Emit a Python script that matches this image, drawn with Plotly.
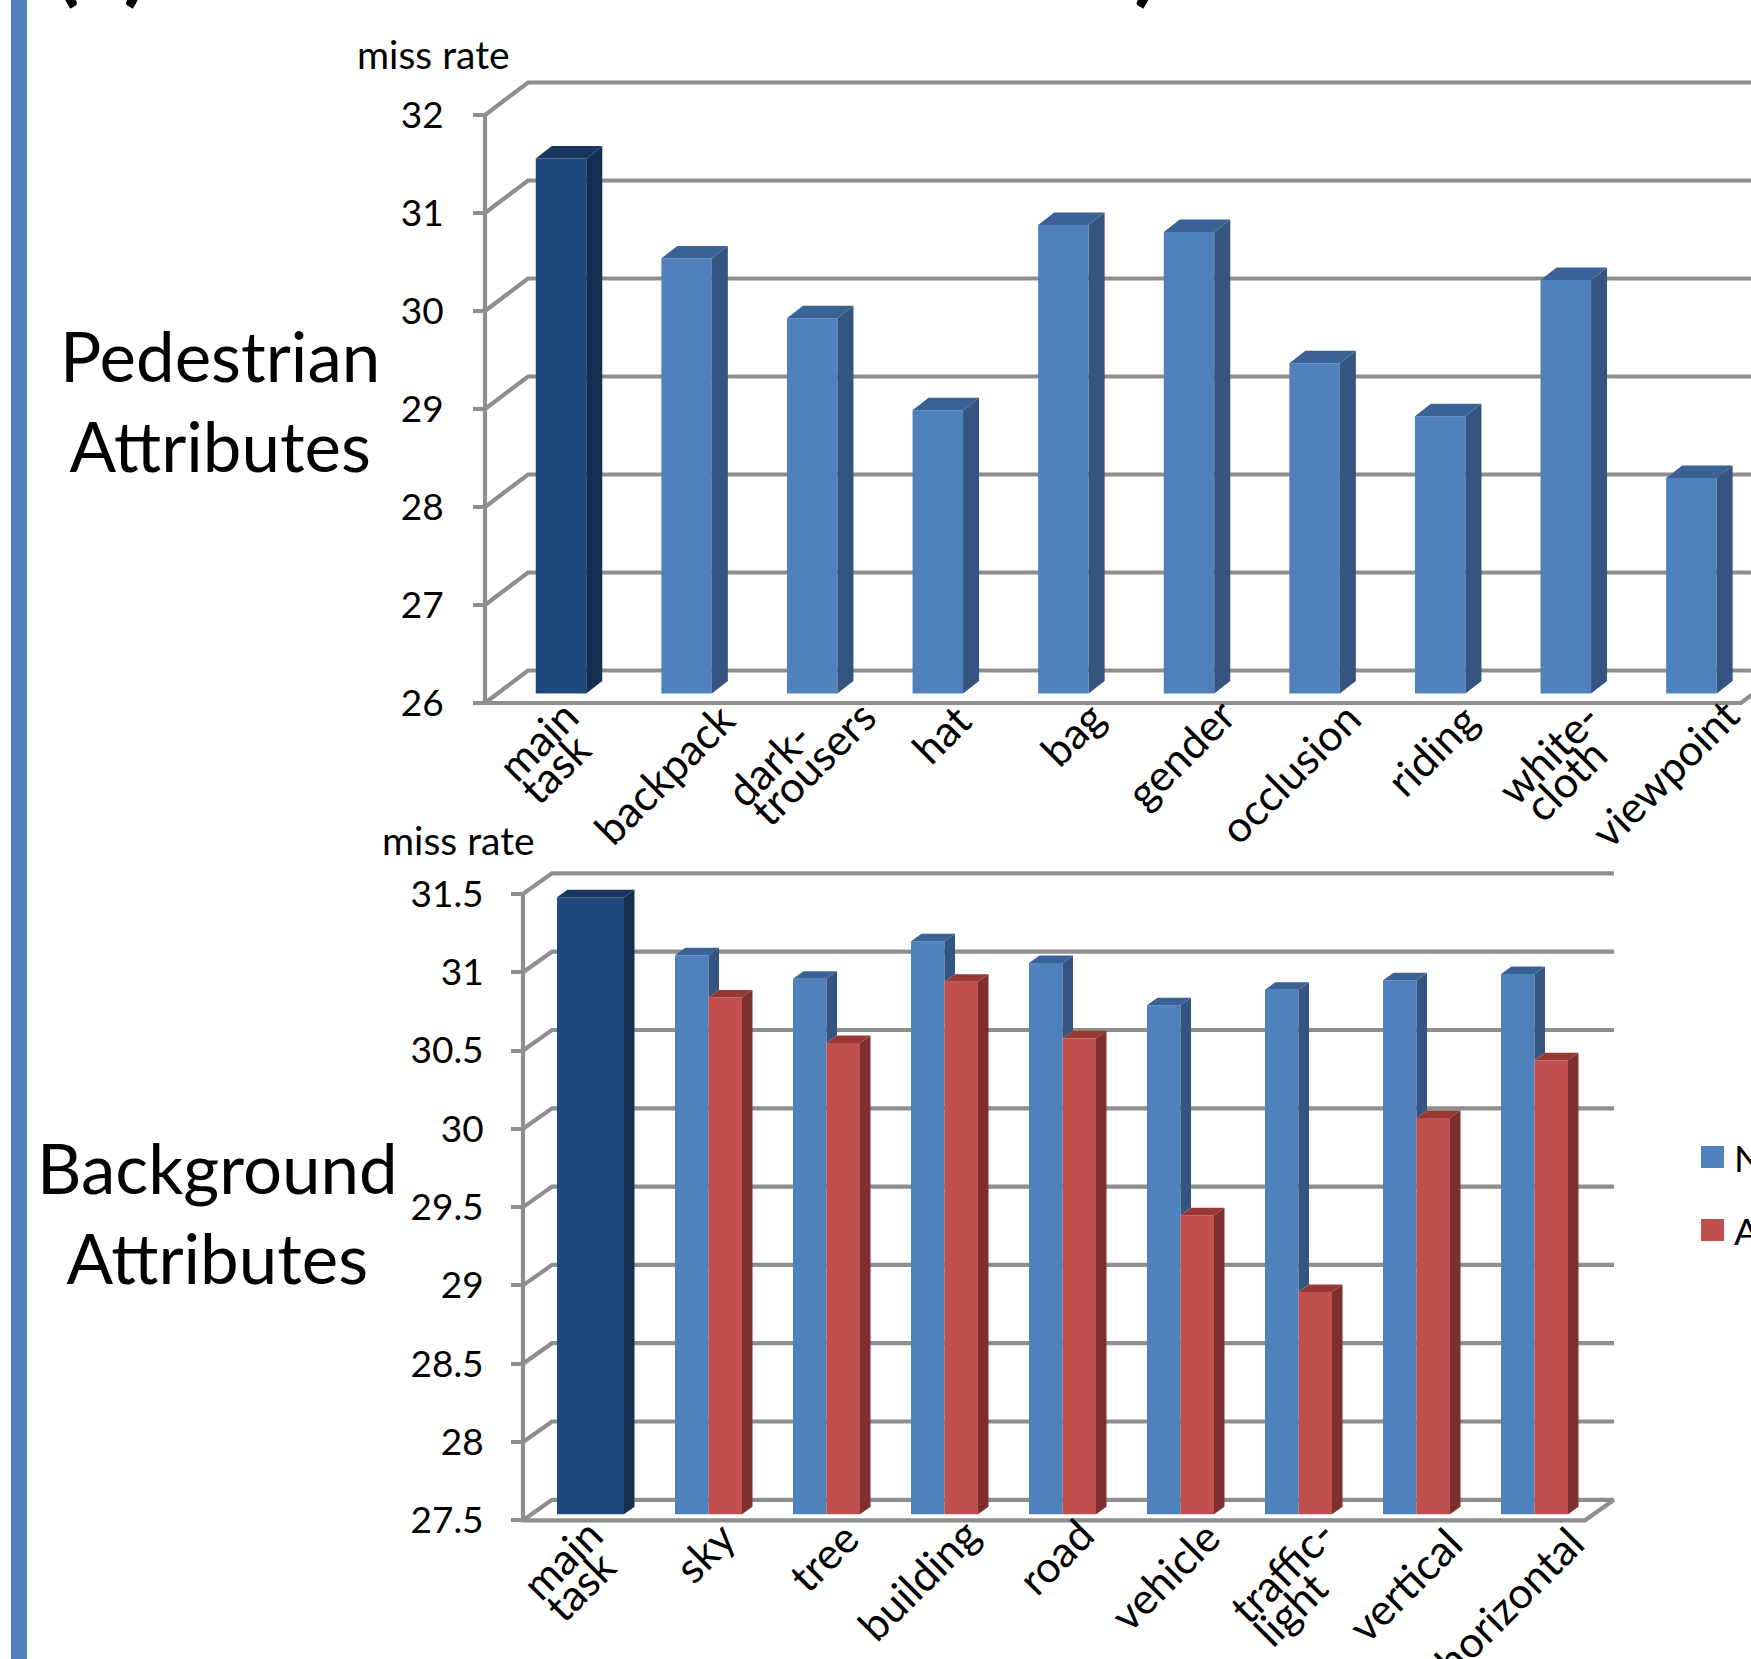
import plotly.graph_objects as go

W, H = 1751, 1659
FONT = "Lato"
BLUE, BLUE_SIDE, BLUE_TOP = "#4f81bd", "#34557f", "#3a6294"
RED, RED_SIDE, RED_TOP = "#c0504d", "#7d302e", "#973835"
DARK, DARK_SIDE, DARK_TOP = "#1f497d", "#152f52", "#17375e"
GRID = "#8e8e8e"

# ---------- data ----------
ped_categories = [["main", "task"], ["backpack"], ["dark-", "trousers"], ["hat"], ["bag"],
                  ["gender"], ["occlusion"], ["riding"], ["white-", "cloth"], ["viewpoint"]]
ped_main = [31.46]
ped_values = [30.44, 29.83, 28.89, 30.78, 30.71, 29.37, 28.83, 30.22, 28.20]
ped_ticks = [26, 27, 28, 29, 30, 31, 32]

bg_categories = [["main", "task"], ["sky"], ["tree"], ["building"], ["road"], ["vehicle"],
                 ["traffic-", "light"], ["vertical"], ["horizontal"]]
bg_main = [31.44]
bg_blue = [31.07, 30.92, 31.16, 31.02, 30.75, 30.85, 30.91, 30.95]
bg_red = [30.80, 30.51, 30.90, 30.54, 29.41, 28.92, 30.03, 30.40]
bg_ticks = [27.5, 28, 28.5, 29, 29.5, 30, 30.5, 31, 31.5]
bg_ticktext = ["27.5", "28", "28.5", "29", "29.5", "30", "30.5", "31", "31.5"]

# label placement, in pixels from the category position: (right edge, top edge) of each line
ped_label_place = [[(28, 689), (40, 722)], [(59, 692)], [(10, 709), (75, 689)], [(44, 692)], [(52, 690)],
                   [(57, 688)], [(57, 690)], [(49, 692)], [(45, 690), (52, 727)], [(59, 687)]]
bg_label_place = [[(23, 1507), (36, 1539)], [(38, 1510)], [(43, 1510)], [(45, 1507)], [(42, 1507)],
                  [(50, 1509)], [(47, 1507), (40, 1560)], [(56, 1516)], [(60, 1516)]]

fig = go.Figure()
shapes, annotations = [], []


def faces(x_ax, y_ax, polys, color):
    xs, ys = [], []
    for poly in polys:
        xs += [p[0] for p in poly] + [poly[0][0], None]
        ys += [p[1] for p in poly] + [poly[0][1], None]
    fig.add_trace(go.Scatter(x=xs, y=ys, xaxis=x_ax, yaxis=y_ax, mode="lines", fill="toself",
                             fillcolor=color, line=dict(width=0), hoverinfo="skip", showlegend=False))


def side_poly(xr, top, low, dx, dy):
    return [(xr, top), (xr + dx, top + dy), (xr + dx, low + dy), (xr, low)]


def top_poly(xl, xr, top, dx, dy):
    return [(xl, top), (xr, top), (xr + dx, top + dy), (xl + dx, top + dy)]


def frame(cfg):
    """Walls, floor and y axis line, built from the tick values."""
    xa, ya = cfg["xa"], cfg["ya"]
    xf, wx, wy, sy, xe = cfg["x_front"], cfg["wall_x"], cfg["wall_y"], cfg["plane_y"], cfg["x_end"]
    line = dict(color=GRID, width=4.2)
    for t in cfg["ticks"]:
        y0 = t - sy
        shapes.append(dict(type="path", layer="below", xref=xa, yref=ya, line=line,
                           path=f"M{xf},{y0} L{xf + wx},{y0 + wy} L{xe + wx},{y0 + wy}"))
    y0, y1 = cfg["ticks"][0] - sy, cfg["ticks"][-1] - sy
    shapes.append(dict(type="path", layer="below", xref=xa, yref=ya, line=line,
                       path=f"M{xf},{y1} L{xf},{y0} L{xe},{y0} L{xe + wx},{y0 + wy}"))


def labels(cfg, cats, place):
    for i, (lines, pos) in enumerate(zip(cats, place)):
        for text, (dx, top) in zip(lines, pos):
            annotations.append(dict(text=text, x=i, y=cfg["base"], xref=cfg["xa"], yref=cfg["ya"],
                                    xanchor="right", yanchor="top", xshift=dx,
                                    yshift=cfg["base_px"] - top, textangle=-45, showarrow=False,
                                    borderpad=0, font=dict(family=FONT, size=43, color="black")))


def axes(name, base, base_px, y_unit, x0_px, x_unit, top_px, bot_px):
    return dict(
        xaxis=dict(domain=[0, 1], range=[-x0_px / x_unit, (W - x0_px) / x_unit], visible=False, anchor=name),
        yaxis=dict(domain=[1 - bot_px / H, 1 - top_px / H],
                   range=[base + (base_px - bot_px) / y_unit, base + (base_px - top_px) / y_unit]),
    )


# ---------- pedestrian chart ----------
P_XU, P_YU = 125.6, 98.0
P_BASE_PX = 693.5
P = dict(xa="x", ya="y", ticks=ped_ticks, base=26, base_px=P_BASE_PX,
         x_front=-76 / P_XU, wall_x=43 / P_XU, wall_y=32.5 / P_YU, plane_y=9.5 / P_YU,
         x_end=(1741 - 561) / P_XU)
P_W, P_DX, P_DY = 50.5 / P_XU, 16 / P_XU, 12.5 / P_YU
frame(P)
fig.add_trace(go.Bar(x=[0], y=[v - 26 for v in ped_main], base=26, width=P_W, marker=dict(color=DARK, line=dict(width=0)),
                     xaxis="x", yaxis="y", showlegend=False, name="main task"))
ped_x = list(range(1, len(ped_values) + 1))
fig.add_trace(go.Bar(x=ped_x, y=[v - 26 for v in ped_values], base=26, width=P_W, marker=dict(color=BLUE, line=dict(width=0)),
                     xaxis="x", yaxis="y", showlegend=False, name="attribute"))
faces("x", "y", [side_poly(P_W / 2, ped_main[0], 26, P_DX, P_DY)], DARK_SIDE)
faces("x", "y", [top_poly(-P_W / 2, P_W / 2, ped_main[0], P_DX, P_DY)], DARK_TOP)
faces("x", "y", [side_poly(i + P_W / 2, v, 26, P_DX, P_DY) for i, v in zip(ped_x, ped_values)], BLUE_SIDE)
faces("x", "y", [top_poly(i - P_W / 2, i + P_W / 2, v, P_DX, P_DY) for i, v in zip(ped_x, ped_values)], BLUE_TOP)
labels(P, ped_categories, ped_label_place)

# ---------- background chart ----------
B_XU, B_YU = 118.0, 156.6
B = dict(xa="x2", ya="y2", ticks=bg_ticks, base=27.5, base_px=1514.3,
         x_front=-67.5 / B_XU, wall_x=29 / B_XU, wall_y=20.5 / B_YU, plane_y=6 / B_YU,
         x_end=(1585 - 590.5) / B_XU)
B_W, B_DX, B_DY = 33.5 / B_XU, 10.5 / B_XU, 7.5 / B_YU
frame(B)
fig.add_trace(go.Bar(x=[0], y=[v - 27.5 for v in bg_main], base=27.5, width=2 * B_W, marker=dict(color=DARK, line=dict(width=0)),
                     xaxis="x2", yaxis="y2", showlegend=False, name="main task"))
bg_x = list(range(1, len(bg_blue) + 1))
fig.add_trace(go.Bar(x=[i - B_W / 2 for i in bg_x], y=[v - 27.5 for v in bg_blue], base=27.5, width=B_W,
                     marker=dict(color=BLUE, line=dict(width=0)), xaxis="x2", yaxis="y2", showlegend=False, name="N"))
fig.add_trace(go.Bar(x=[i + B_W / 2 for i in bg_x], y=[v - 27.5 for v in bg_red], base=27.5, width=B_W,
                     marker=dict(color=RED, line=dict(width=0)), xaxis="x2", yaxis="y2", showlegend=False, name="A"))
faces("x2", "y2", [side_poly(B_W, bg_main[0], 27.5, B_DX, B_DY)], DARK_SIDE)
faces("x2", "y2", [top_poly(-B_W, B_W, bg_main[0], B_DX, B_DY)], DARK_TOP)
faces("x2", "y2", [side_poly(i, b, r, B_DX, B_DY) for i, b, r in zip(bg_x, bg_blue, bg_red)], BLUE_SIDE)
faces("x2", "y2", [top_poly(i - B_W, i, b, B_DX, B_DY) for i, b in zip(bg_x, bg_blue)], BLUE_TOP)
faces("x2", "y2", [side_poly(i + B_W, r, 27.5, B_DX, B_DY) for i, r in zip(bg_x, bg_red)], RED_SIDE)
faces("x2", "y2", [top_poly(i, i + B_W, r, B_DX, B_DY) for i, r in zip(bg_x, bg_red)], RED_TOP)
labels(B, bg_categories, bg_label_place)

# ---------- page furniture ----------
shapes.append(dict(type="rect", xref="paper", yref="paper", x0=11 / W, x1=27 / W, y0=0, y1=1,
                   fillcolor=BLUE, line=dict(width=0), layer="below"))


def text(t, x_px, y_px, size, xanchor="center", yanchor="middle", bold=False):
    s = f"<b>{t}</b>" if bold else t
    annotations.append(dict(text=s, x=x_px / W, y=1 - y_px / H, xref="paper", yref="paper", xanchor=xanchor,
                            yanchor=yanchor, showarrow=False, borderpad=0,
                            font=dict(family=FONT, size=size, color="black")))


text("miss rate", 433, 54, 39)
text("miss rate", 458, 840, 39)
text("Pedestrian<br>Attributes", 220, 400.5, 69)
text("Background<br>Attributes", 217, 1212, 69)
text("(a)", 101, 15, 93, yanchor="bottom", bold=True)
text(")", 1147, 15, 93, yanchor="bottom", bold=True)

for y_px, color, t in [(1146, BLUE, "N"), (1219, RED, "A")]:
    shapes.append(dict(type="rect", xref="paper", yref="paper", x0=1701 / W, x1=1724 / W,
                       y0=1 - (y_px + 22) / H, y1=1 - y_px / H, fillcolor=color, line=dict(width=0)))
    text(t, 1733, y_px + 11, 37, xanchor="left")

a1 = axes("y", 26, P_BASE_PX, P_YU, 561, P_XU, 60, 730)
a2 = axes("y2", 27.5, 1514.3, B_YU, 590.5, B_XU, 860, 1540)
tick_style = dict(showgrid=False, zeroline=False, showline=False, ticks="outside", ticklen=12, tickwidth=4,
                  tickcolor=GRID, tickmode="array", tickfont=dict(family=FONT, size=37, color="black"))
fig.update_layout(
    width=W, height=H, margin=dict(l=0, r=0, t=0, b=0), autosize=False, paper_bgcolor="white",
    plot_bgcolor="rgba(0,0,0,0)", barmode="overlay", showlegend=False,
    shapes=shapes, annotations=annotations,
    xaxis=a1["xaxis"],
    yaxis={**a1["yaxis"], **tick_style, "anchor": "free", "position": 485 / W,
           "tickvals": [t - P["plane_y"] for t in ped_ticks], "ticktext": [str(t) for t in ped_ticks],
           "ticklabelstandoff": 22},
    xaxis2=a2["xaxis"],
    yaxis2={**a2["yaxis"], **tick_style, "anchor": "free", "position": 523 / W,
            "tickvals": [t - B["plane_y"] for t in bg_ticks], "ticktext": bg_ticktext,
            "ticklabelstandoff": 20},
)
page_fix = ("document.body.style.margin='0';document.body.style.overflow='hidden';"
            "var s=document.createElement('style');s.textContent='svg text{font-variant-ligatures:none}';"
            "document.head.appendChild(s);")
fig.write_html("out.html", config=dict(displayModeBar=False, responsive=False), post_script=page_fix)
